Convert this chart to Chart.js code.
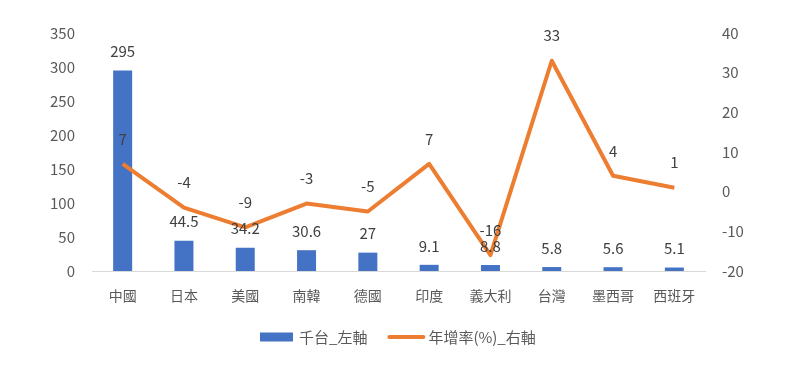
<!DOCTYPE html>
<html>
<head>
<meta charset="utf-8">
<script src="https://cdn.jsdelivr.net/npm/chart.js@4"></script>
<style>
  html, body { margin: 0; padding: 0; background: #fff; }
  #wrap { width: 796px; height: 366px; }
</style>
</head>
<body>
<div id="wrap"><canvas id="chart"></canvas></div>
<script>
const categories = ["中國", "日本", "美國", "南韓", "德國", "印度", "義大利", "台灣", "墨西哥", "西班牙"];
const units = [295, 44.5, 34.2, 30.6, 27, 9.1, 8.8, 5.8, 5.6, 5.1];
const growth = [7, -4, -9, -3, -5, 7, -16, 33, 4, 1];
const leftTicks = [0, 50, 100, 150, 200, 250, 300, 350];
const rightTicks = [-20, -10, 0, 10, 20, 30, 40];
const seriesNames = ["千台_左軸", "年增率(%)_右軸"];

const FONT = "'Noto Sans CJK TC', 'Noto Sans', sans-serif";
const BLUE = "#4472C4";
const ORANGE = "#ED7D31";
const GREY = "#595959";

// draws the value labels above bars and line points
const valueLabels = {
  id: "valueLabels",
  afterDatasetsDraw(chart) {
    const ctx = chart.ctx;
    ctx.save();
    ctx.font = "15px " + FONT;
    ctx.fillStyle = "#404040";
    ctx.textAlign = "center";
    ctx.textBaseline = "middle";
    chart.data.datasets.forEach((ds, i) => {
      const meta = chart.getDatasetMeta(i);
      const off = ds.type === "bar" ? 19 : 25;
      meta.data.forEach((el, j) => {
        ctx.fillText(String(ds.data[j]), el.x, el.y - off);
      });
    });
    ctx.restore();
  },
};

// excel-like legend under the axis: bar swatch, then line swatch
const bottomLegend = {
  id: "bottomLegend",
  afterDraw(chart) {
    const ctx = chart.ctx;
    const y = 337;
    ctx.save();
    ctx.font = "15px " + FONT;
    ctx.textBaseline = "middle";
    ctx.textAlign = "left";
    const w1 = ctx.measureText(seriesNames[0]).width;
    const w2 = ctx.measureText(seriesNames[1]).width;
    const total = 33 + 6 + w1 + 21 + 36 + 4 + w2;
    let x = Math.round(chart.width / 2 - total / 2);
    ctx.fillStyle = BLUE;
    ctx.fillRect(x, y - 4.5, 33, 9);
    x += 39;
    ctx.fillStyle = GREY;
    ctx.fillText(seriesNames[0], x, y);
    x += w1 + 21;
    ctx.strokeStyle = ORANGE;
    ctx.lineWidth = 4;
    ctx.lineCap = "round";
    ctx.beginPath();
    ctx.moveTo(x + 1, y);
    ctx.lineTo(x + 35, y);
    ctx.stroke();
    x += 40;
    ctx.fillText(seriesNames[1], x, y);
    ctx.restore();
  },
};

new Chart(document.getElementById("chart"), {
  data: {
    labels: categories,
    datasets: [
      {
        type: "bar",
        label: seriesNames[0],
        data: units,
        yAxisID: "y",
        backgroundColor: BLUE,
        categoryPercentage: 1,
        barPercentage: 0.31,
        order: 1,
      },
      {
        type: "line",
        label: seriesNames[1],
        data: growth,
        yAxisID: "y1",
        borderColor: ORANGE,
        backgroundColor: ORANGE,
        borderWidth: 4,
        pointRadius: 0,
        borderJoinStyle: "round",
        tension: 0,
        order: 0,
      },
    ],
  },
  options: {
    responsive: true,
    maintainAspectRatio: false,
    animation: false,
    layout: { padding: { top: 33, left: 0, right: 0, bottom: 56 } },
    plugins: {
      tooltip: { enabled: false },
      legend: { display: false },
    },
    scales: {
      x: {
        grid: { display: false, drawTicks: false },
        border: { display: true, color: "#D9D9D9", width: 1 },
        ticks: { color: GREY, font: { family: FONT, size: 14 }, padding: 16, maxRotation: 0 },
        afterFit(s) { s.height = 39; },
      },
      y: {
        position: "left",
        min: 0,
        max: 350,
        afterBuildTicks(s) { s.ticks = leftTicks.map((v) => ({ value: v })); },
        grid: { display: false, drawTicks: false },
        border: { display: false },
        ticks: { color: GREY, font: { family: FONT, size: 15 }, padding: 17 },
        afterFit(s) { s.width = 92; },
      },
      y1: {
        position: "right",
        min: -20,
        max: 40,
        afterBuildTicks(s) { s.ticks = rightTicks.map((v) => ({ value: v })); },
        grid: { display: false, drawTicks: false },
        border: { display: false },
        ticks: { color: GREY, font: { family: FONT, size: 15 }, padding: 17 },
        afterFit(s) { s.width = 91; },
      },
    },
  },
  plugins: [valueLabels, bottomLegend],
});
</script>
</body>
</html>
